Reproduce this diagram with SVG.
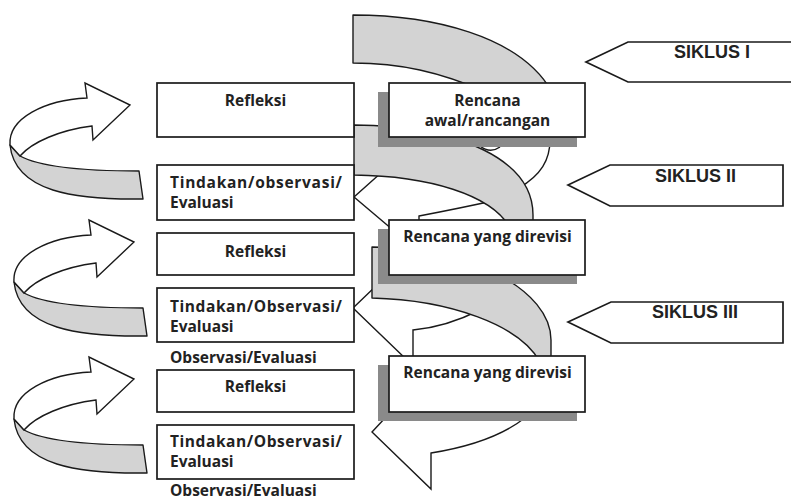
<svg xmlns="http://www.w3.org/2000/svg" width="791" height="501" viewBox="0 0 791 501">
<style>
.box{fill:#fff;stroke:#1a1a1a;stroke-width:1.7}
.shadow{fill:#8a8a8a}
.band{fill:#d3d3d3;stroke:#1a1a1a;stroke-width:1.4;stroke-linejoin:round}
.wband{fill:#fff;stroke:#1a1a1a;stroke-width:1.4;stroke-linejoin:miter}
.line{fill:none;stroke:#1a1a1a;stroke-width:1.4}
.lbl{font-family:"Open Sans","Noto Sans","Liberation Sans",sans-serif;font-weight:bold;font-size:15.5px;fill:#222}
.c{text-anchor:middle}
.sik{font-family:"Liberation Sans",Arial,sans-serif;font-weight:bold;font-size:18px;fill:#222}
</style>
<defs>
<g id="loopShape">
<path class="band" d="M20,156 C40,167 80,171 139,171 L143,199 C75,200 15,192 10,145 Z"/>
<path class="wband" d="M10,145 C8,118 45,100 87,98 L85,83 L130,105 L93,140 L92,126 C60,130 32,142 20,156 Z"/>
</g>
</defs>

<g id="loop1"><use href="#loopShape"/></g>
<g id="loop2"><use href="#loopShape" transform="translate(4,137)"/></g>
<g id="loop3"><use href="#loopShape" transform="translate(4,274)"/></g>

<g id="connectors">
<path class="line" d="M550,140 C550,160 541,175 519,188"/>
<path class="line" d="M480,146 Q490,154 500,147"/>
<path class="line" d="M497,200 C470,206 440,212 419,216 L419,226"/>
<path class="line" d="M382,172 L354,197 L393,230"/>
<path class="line" d="M480,310 C458,321 436,328 413,330 L413,362"/>
<path class="line" d="M377,285 L353,308 L408,361"/>
<path class="wband" d="M386,417 L372,432 L431,489 L431,453 C462,448 500,438 526,417"/>
<path class="band" d="M353,15 C430,15 520,35 552,92 L486,92 C440,72 400,63 353,63 Z"/>
<path class="band" d="M354,125 C460,126 533,160 533,215 L533,226 L509,226 C490,195 430,176 354,175 Z"/>
<path class="band" d="M372,247 C470,247 551,290 551,340 L551,362 L540,362 C520,325 450,300 372,298 Z"/>
</g>

<g id="rencana-awal">
<rect class="shadow" x="378" y="92" width="199" height="55"/>
<rect class="box" x="389" y="83" width="196" height="54"/>
<text class="lbl c" x="487.5" y="106">Rencana</text>
<text class="lbl c" x="487.5" y="126">awal/rancangan</text>
</g>
<g id="rencana-revisi-1">
<rect class="shadow" x="378" y="229" width="199" height="55"/>
<rect class="box" x="389" y="220" width="196" height="55"/>
<text class="lbl c" x="487.5" y="242">Rencana yang direvisi</text>
</g>
<g id="rencana-revisi-2">
<rect class="shadow" x="378" y="365" width="199" height="56"/>
<rect class="box" x="389" y="356" width="196" height="56"/>
<text class="lbl c" x="487.5" y="378">Rencana yang direvisi</text>
</g>

<g id="refleksi-1">
<rect class="box" x="157" y="83" width="197" height="54"/>
<text class="lbl c" x="255.5" y="106">Refleksi</text>
</g>
<g id="tindakan-1">
<rect class="box" x="157" y="165" width="197" height="55"/>
<text class="lbl" x="170" y="188" textLength="172" lengthAdjust="spacing">Tindakan/observasi/</text>
<text class="lbl" x="170" y="208">Evaluasi</text>
</g>
<g id="refleksi-2">
<rect class="box" x="157" y="233" width="197" height="42"/>
<text class="lbl c" x="255.5" y="257">Refleksi</text>
</g>
<g id="tindakan-2">
<rect class="box" x="157" y="288" width="197" height="54"/>
<text class="lbl" x="170" y="312" textLength="172" lengthAdjust="spacing">Tindakan/Observasi/</text>
<text class="lbl" x="170" y="332">Evaluasi</text>
</g>
<g id="observasi-1">
<text class="lbl" x="170" y="363">Observasi/Evaluasi</text>
</g>
<g id="refleksi-3">
<rect class="box" x="157" y="370" width="197" height="42"/>
<text class="lbl c" x="255.5" y="392">Refleksi</text>
</g>
<g id="tindakan-3">
<rect class="box" x="157" y="425" width="197" height="54"/>
<text class="lbl" x="170" y="447" textLength="172" lengthAdjust="spacing">Tindakan/Observasi/</text>
<text class="lbl" x="170" y="467">Evaluasi</text>
</g>
<g id="observasi-2">
<text class="lbl" x="170" y="496">Observasi/Evaluasi</text>
</g>

<g id="siklus-1">
<path class="box" d="M796,42 L628,42 L586,62 L628,82 L796,82"/>
<text class="sik" x="674" y="58">SIKLUS I</text>
</g>
<g id="siklus-2">
<path class="box" d="M783,165 L610,165 L568,185 L610,206 L783,206 Z"/>
<text class="sik" x="655" y="182">SIKLUS II</text>
</g>
<g id="siklus-3">
<path class="box" d="M783,302 L611,302 L568,322 L611,343 L783,343 Z"/>
<text class="sik" x="652" y="318">SIKLUS III</text>
</g>
</svg>
